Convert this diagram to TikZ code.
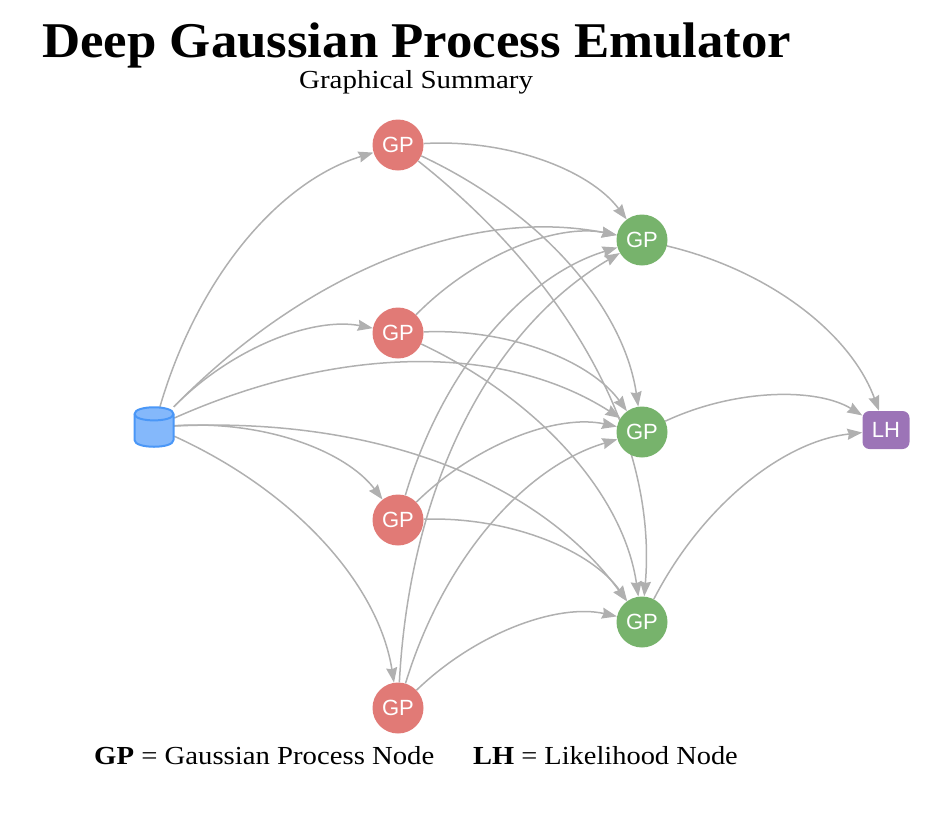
\documentclass[tikz,border=0pt]{standalone}
\usepackage{fontspec}
\setmainfont{Liberation Serif}
\setsansfont{Liberation Sans}
\usetikzlibrary{arrows.meta,calc}
\pgfdeclarelayer{edges}
\pgfsetlayers{edges,main}
\newcommand{\curvededge}[2]{%
  \coordinate (ctl) at ($(#1)!.578!(#2)!0.625!90:(#2)$);
  \draw[edgeline] (#1) .. controls ($(#1)!.667!(ctl)$) and ($(#2)!.667!(ctl)$) .. (#2);}
\tikzset{
  edgeline/.style={draw=edgegray,line width=1.5pt,-{Stealth[length=15pt,width=11pt,inset=1.5pt]}},
  gpbase/.style={circle,minimum size=51pt,inner sep=0pt,text=white,font=\sffamily\fontsize{22}{22}\selectfont},
  gpred/.style={gpbase,fill=gpredfill},
  gpgreen/.style={gpbase,fill=gpgreenfill},
  lhnode/.style={rectangle,rounded corners=7pt,minimum width=47pt,minimum height=38pt,inner sep=0pt,fill=lhfill,text=white,font=\sffamily\fontsize{22}{22}\selectfont},
  datanode/.style={rectangle,minimum width=40pt,minimum height=40pt,inner sep=0pt},
  cylpart/.style={draw=dataline,line width=2pt,line join=round},
  titletext/.style={anchor=base west,inner sep=0pt,font=\bfseries\fontsize{50}{50}\selectfont},
  plaintext/.style={anchor=base west,inner sep=0pt,font=\fontsize{26}{26}\selectfont}
}
\definecolor{edgegray}{HTML}{B0B0B0}
\definecolor{gpredfill}{HTML}{E17A76}
\definecolor{gpgreenfill}{HTML}{77B36C}
\definecolor{lhfill}{HTML}{9C74B7}
\definecolor{dataline}{HTML}{4A97F7}
\definecolor{datafill}{HTML}{84B8FB}
\begin{document}
\begin{tikzpicture}[x=1pt,y=-1pt]
\useasboundingbox (0,0) rectangle (952,812);
\node[datanode] (D) at (154,427) {};
\begin{scope}[shift={(D)}]
  \path[cylpart,fill=datafill] (-19.5,-13) .. controls (-19.5,-22) and (19.5,-22) .. (19.5,-13)
    -- (19.5,13) .. controls (19.5,22) and (-19.5,22) .. (-19.5,13) -- cycle;
  \path[cylpart] (-19.5,-13) .. controls (-19.5,-4.5) and (19.5,-4.5) .. (19.5,-13);
\end{scope}
\node[gpred] (R1) at (398,145) {GP};
\node[gpred] (R2) at (398,333) {GP};
\node[gpred] (R3) at (398,520) {GP};
\node[gpred] (R4) at (398,708) {GP};
\node[gpgreen] (G1) at (642,240) {GP};
\node[gpgreen] (G2) at (642,432) {GP};
\node[gpgreen] (G3) at (642,622) {GP};
\node[lhnode] (L) at (886,430) {LH};
\begin{pgfonlayer}{edges}
\foreach \a/\b in {D/R1,D/R2,D/R3,D/R4,D/G1,D/G2,D/G3,
  R1/G1,R1/G2,R1/G3,R2/G1,R2/G2,R2/G3,R3/G1,R3/G2,R3/G3,R4/G1,R4/G2,R4/G3,
  G1/L,G2/L,G3/L}{\curvededge{\a}{\b}}
\end{pgfonlayer}
\node[titletext] (title) at (42,57) {\scalebox{1.057}[1]{Deep Gaussian Process Emulator}};
\node[plaintext] (sub) at (299,88) {\scalebox{1.113}[1]{Graphical Summary}};
\node[plaintext] (leg1) at (94,764) {\scalebox{1.105}[1]{\textbf{GP} = Gaussian Process Node}};
\node[plaintext] (leg2) at (473,764) {\scalebox{1.093}[1]{\textbf{LH} = Likelihood Node}};
\end{tikzpicture}
\end{document}
